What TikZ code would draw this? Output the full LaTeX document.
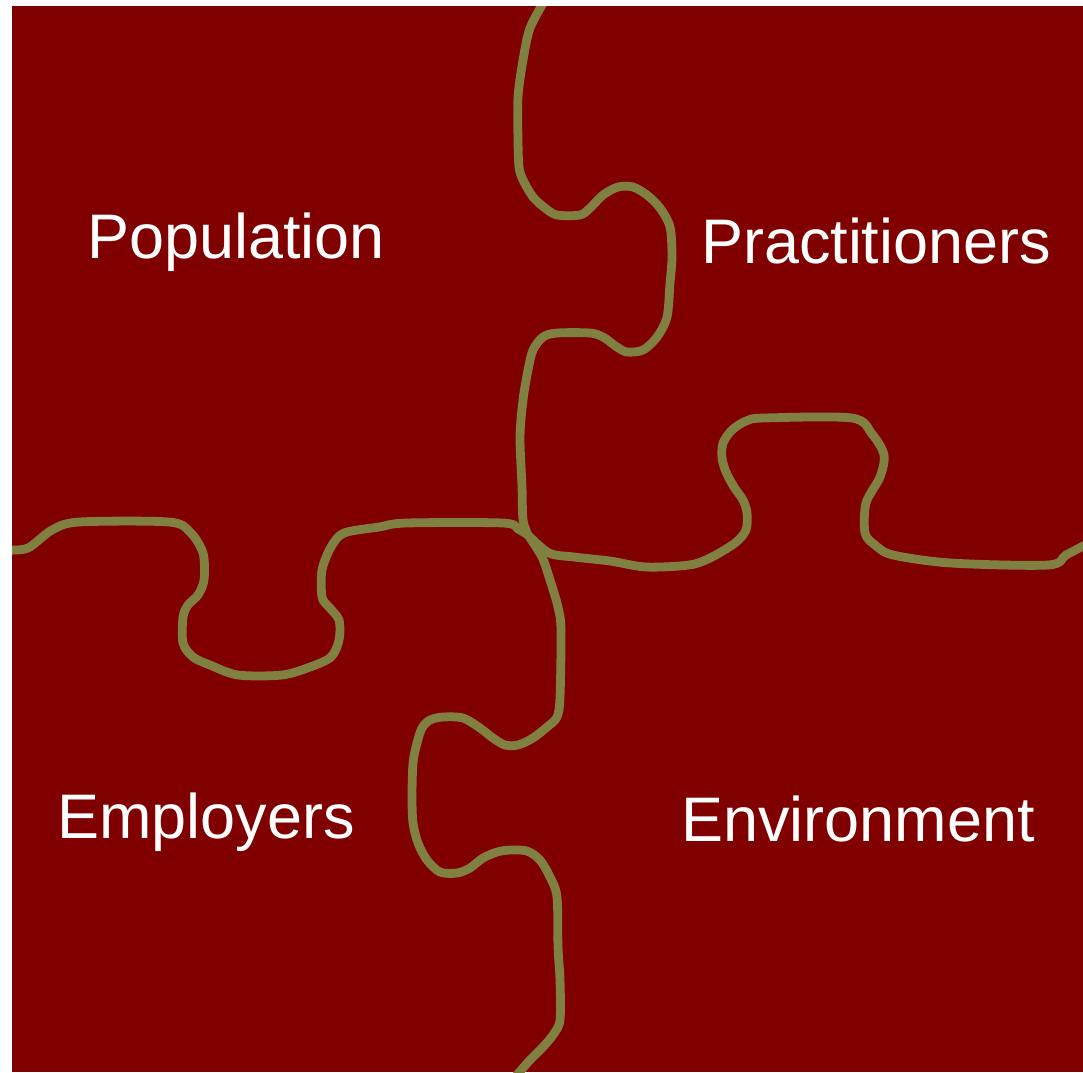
\documentclass[tikz,border=0pt]{standalone}
\usepackage{fontspec}
\setmainfont{Liberation Sans}
\definecolor{board}{HTML}{800000}
\definecolor{seam}{HTML}{808040}
\tikzset{
  piece/.style={text=white, font=\fontsize{17.9}{21}\selectfont},
  cut/.style={seam, line width=2.5pt, line join=round}
}

\begin{document}
\begin{tikzpicture}[x=0.01cm,y=-0.01cm]
  \useasboundingbox (0,0) rectangle (1083,1072);
  % Draw board
  \fill[board] (12,6) rectangle (1083,1072);
  \clip (12,6) rectangle (1083,1072);

  \coordinate (c) at (528,535);

  % Upper seam
  \draw[cut] plot[smooth] coordinates {(545,0) (530,28) (523,60) (518,97)
    (518,140) (519,167) (523,180) (533,197) (545,208) (557,215) (580,215) (590,208)
    (603,195) (618,187) (633,187) (647,195) (660,208) (670,227) (672,257) (670,283)
    (667,317) (657,337) (643,350) (627,352) (617,347) (603,337) (590,333) (557,333)
    (543,337) (533,350) (528,370) (523,400) (520,437) (522,487) (523,520) (c)};

  % Right seam
  \draw[cut] plot[smooth] coordinates {(c) (549,553) (574,557) (610,561) (646,567)
    (689,565) (710,558) (735,543) (746,530) (747,513) (743,500) (734,487) (726,472)
    (722,458) (723,443) (732,430) (746,421) (764,418) (852,418) (872,434)
    (884,455) (880,477) (866,503) (865,533) (875,545) (893,555) (951,563) (1048,565)
    (1066,555) (1087,544)};

  % Left seam
  \draw[cut] plot[smooth] coordinates {(8,550) (28,548) (52,530) (79,522)
    (169,522) (190,532) (203,553) (204,580) (198,595) (188,605) (183,617)
    (183,643) (193,657) (210,665) (238,675) (282,675) (310,667) (331,657) (339,640)
    (339,620) (329,607) (322,597) (322,570) (331,547) (344,533) (379,527) (406,523)
    (503,523) (518,529) (c)};

  % Lower seam
  \draw[cut] plot[smooth] coordinates {(c) (542,557) (550,580) (558,607) (561,630)
    (560,697) (557,717) (547,727) (533,738) (518,745) (505,745) (493,738) (480,728)
    (463,718) (443,717) (430,720) (422,728) (417,743) (413,763) (412,797) (413,823)
    (418,843) (427,860) (440,872) (457,873) (470,868) (483,858) (497,852) (510,850)
    (527,851) (540,860) (550,877) (557,897) (558,947) (560,980) (560,1020) (553,1035)
    (542,1048) (530,1060) (516,1076)};

  % Labels
  \node[piece] (pop) at (236,242) {Population};
  \node[piece] (prac) at (876,241) {Practitioners};
  \node[piece] (emp) at (206,822) {Employers};
  \node[piece] (env) at (858,819) {Environment};
\end{tikzpicture}
\end{document}
